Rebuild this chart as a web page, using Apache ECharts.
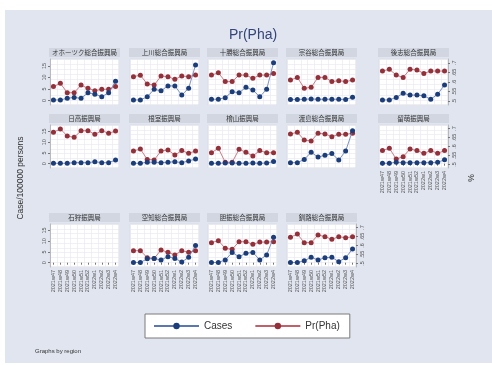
<!DOCTYPE html>
<html>
<head>
<meta charset="utf-8">
<script src="https://cdn.jsdelivr.net/npm/echarts@6/dist/echarts.min.js"></script>
<style>
    body { margin: 0; background: #fff; }
    #chart { width: 492px; height: 365px; }
</style>
</head>
<body>
<div id="chart"></div>
<script>
// regions, in the order Stata draws them
var regions = ['オホーツク総合振興局', '上川総合振興局', '十勝総合振興局', '宗谷総合振興局', '後志総合振興局',
    '日高振興局', '根室振興局', '檜山振興局', '渡島総合振興局', '留萌振興局',
    '石狩振興局', '空知総合振興局', '胆振総合振興局', '釧路総合振興局'];

var weeks = ['2021w47', '2021w48', '2021w49', '2021w50', '2021w51', '2021w52', '2022w1', '2022w2', '2022w3', '2022w4'];

var none = [null, null, null, null, null, null, null, null, null, null];

// Case/100000 persons
var cases = [
    [0.2, 0.2, 0.9, 1.3, 0.9, 3.3, 2.7, 1.6, 3.3, 8.3],
    [0.2, 0.2, 1.6, 4.8, 4.2, 6.3, 6.3, 2.3, 5.3, 15.4],
    [0.5, 0.5, 1.2, 3.8, 3.3, 5.7, 4.5, 1.6, 4.8, 16.4],
    [0.4, 0.4, 0.5, 0.6, 0.5, 0.5, 0.5, 0.5, 0.4, 1.4],
    [0.2, 0.2, 1.3, 3.1, 2.3, 2.3, 2.0, 0.5, 2.7, 6.7],
    [0.2, 0.2, 0.2, 0.5, 0.5, 0.5, 0.9, 0.5, 0.5, 1.7],
    [0.2, 0.2, 0.7, 0.7, 0.5, 0.7, 0.9, 0.5, 1.3, 2.2],
    [0.2, 0.2, 0.3, 0.3, 0.2, 0.2, 0.3, 0.2, 0.3, 1.0],
    [0.5, 0.5, 2.0, 5.3, 3.1, 3.9, 4.7, 1.7, 5.9, 15.3],
    [0.2, 0.2, 0.7, 0.5, 0.5, 0.5, 0.5, 0.5, 0.7, 1.8],
    none,
    [0.1, 0.1, 1.8, 1.9, 1.3, 2.8, 2.0, 0.3, 2.5, 8.0],
    [0.1, 0.1, 1.3, 4.7, 2.8, 4.4, 4.8, 1.3, 3.6, 11.8],
    [0.1, 0.1, 0.9, 2.5, 1.3, 2.3, 2.5, 0.5, 2.3, 6.4]
];

// Pr(Pha)
var prPha = [
    [.576, .593, .544, .544, .584, .567, .555, .562, .562, .576],
    [.628, .635, .590, .584, .631, .628, .614, .631, .628, .636],
    [.636, .648, .602, .602, .636, .636, .619, .636, .636, .645],
    [.610, .624, .567, .572, .624, .624, .602, .607, .602, .610],
    [.657, .666, .636, .624, .666, .663, .645, .657, .657, .657],
    [.679, .698, .659, .651, .688, .688, .668, .688, .674, .686],
    [.575, .586, .528, .525, .575, .581, .552, .577, .562, .575],
    [.565, .590, .512, .512, .584, .568, .547, .577, .565, .565],
    [.670, .679, .636, .631, .674, .670, .655, .668, .668, .674],
    [.577, .590, .530, .543, .586, .577, .562, .577, .562, .577],
    none,
    [.571, .571, .532, .528, .575, .562, .547, .571, .562, .571],
    [.616, .627, .584, .579, .621, .621, .607, .619, .619, .621],
    [.646, .664, .616, .616, .659, .649, .635, .649, .643, .649]
];

var caseTicks = [0, 5, 10, 15];
var prTicks = [.5, .55, .6, .65, .7];

// panel layout
var colX = [50, 130, 208, 287, 379];
var rowY = [59, 125, 224];
var rowH = [46, 43, 43];
var panelW = 69;

var BLUE = '#1b3d7a', RED = '#93303a';
var FONT = 'Liberation Sans';
var JP = 'Noto Sans CJK JP';

var grids = [], xAxes = [], yAxes = [], series = [];
var graphics = [
    {type: 'rect', z: -10, shape: {x: 5, y: 10, width: 487, height: 353}, style: {fill: '#e0e5ef'}}
];

for (var i = 0; i < regions.length; i++) {
    var r = i < 5 ? 0 : (i < 10 ? 1 : 2);
    var c = i - r * 5;
    var leftAxis = c === 0;
    var rightAxis = c === 4 || i === regions.length - 1;
    var bottomAxis = r === 2 || i === 9;

    grids.push({
        left: colX[c], top: rowY[r], width: panelW, height: rowH[r],
        show: true, backgroundColor: '#fff', borderColor: '#d9dde6', borderWidth: 1
    });

    graphics.push({
        type: 'rect', shape: {x: colX[c] - 1, y: rowY[r] - 11, width: panelW + 2, height: 9},
        style: {fill: '#d1d6e1'}
    });
    graphics.push({
        type: 'text', x: colX[c] + panelW / 2, y: rowY[r] - 6.5,
        style: {text: regions[i], fill: '#333', font: '6.5px "' + JP + '"', textAlign: 'center', textVerticalAlign: 'middle'}
    });

    xAxes.push({
        type: 'category', gridIndex: i, data: weeks, boundaryGap: true,
        axisLine: {show: false},
        axisTick: {show: bottomAxis, length: 2, alignWithLabel: true, lineStyle: {color: '#777'}},
        axisLabel: {show: bottomAxis, rotate: 90, fontSize: 5.5, margin: 3, color: '#555', fontFamily: FONT, interval: 0},
        splitLine: {show: true, interval: 0, lineStyle: {color: '#e7e8ef', width: 0.6}}
    });

    yAxes.push({
        type: 'value', gridIndex: i, position: 'left', min: -2, max: 18,
        axisLine: {show: leftAxis, lineStyle: {color: '#999', width: 0.6}},
        axisTick: {show: leftAxis, length: 2, customValues: caseTicks, lineStyle: {color: '#777'}},
        axisLabel: {show: leftAxis, customValues: caseTicks, rotate: 90, fontSize: 5.5, margin: 3, color: '#555', fontFamily: FONT},
        splitLine: {show: false}
    });
    yAxes.push({
        type: 'value', gridIndex: i, position: 'right', min: .48, max: .72,
        axisLine: {show: rightAxis, lineStyle: {color: '#999', width: 0.6}},
        axisTick: {show: rightAxis, length: 2, customValues: prTicks, lineStyle: {color: '#777'}},
        axisLabel: {
            show: rightAxis, customValues: prTicks, rotate: 90, fontSize: 5.5, margin: 3, color: '#555', fontFamily: FONT,
            formatter: function (v) { return String(+v.toFixed(2)).replace(/^0/, ''); }
        },
        splitLine: {show: false}
    });
    // only carries the fine horizontal grid
    yAxes.push({
        type: 'value', gridIndex: i, position: 'left', min: 0, max: 9, interval: 1,
        axisLine: {show: false}, axisTick: {show: false}, axisLabel: {show: false},
        splitLine: {show: true, lineStyle: {color: '#e7e8ef', width: 0.6}}
    });

    series.push({
        name: 'Cases', type: 'line', xAxisIndex: i, yAxisIndex: 3 * i, data: cases[i],
        symbol: 'circle', symbolSize: 5, showAllSymbol: true, z: 3,
        itemStyle: {color: BLUE}, lineStyle: {color: '#5a77b0', width: 0.8}
    });
    series.push({
        name: 'Pr(Pha)', type: 'line', xAxisIndex: i, yAxisIndex: 3 * i + 1, data: prPha[i],
        symbol: 'circle', symbolSize: 5, showAllSymbol: true, z: 2,
        itemStyle: {color: RED}, lineStyle: {color: '#c0606a', width: 0.8}
    });
}

graphics.push({
    type: 'text', x: 21, y: 178, rotation: Math.PI / 2,
    style: {text: 'Case/100000 persons', fill: '#333', font: '8.5px "' + FONT + '"', textAlign: 'center', textVerticalAlign: 'middle'}
});
graphics.push({
    type: 'text', x: 472, y: 178, rotation: Math.PI / 2,
    style: {text: '%', fill: '#333', font: '8.5px "' + FONT + '"', textAlign: 'center', textVerticalAlign: 'middle'}
});
graphics.push({
    type: 'text', x: 35, y: 351,
    style: {text: 'Graphs by region', fill: '#333', font: '6px "' + FONT + '"', textAlign: 'left', textVerticalAlign: 'middle'}
});

var option = {
    animation: false,
    title: {
        text: 'Pr(Pha)', left: 248, top: 23, textAlign: 'center',
        textStyle: {fontSize: 14, fontWeight: 'normal', color: '#34457a', fontFamily: FONT}
    },
    legend: {
        data: ['Cases', 'Pr(Pha)'], left: 145, top: 314,
        padding: [7, 10, 7, 8], itemGap: 22, itemWidth: 45, itemHeight: 8,
        backgroundColor: '#fff', borderColor: '#7a7a7a', borderWidth: 1,
        textStyle: {fontSize: 10, color: '#333', fontFamily: FONT}
    },
    grid: grids,
    xAxis: xAxes,
    yAxis: yAxes,
    series: series,
    graphic: graphics
};

var myChart = echarts.init(document.getElementById('chart'));
myChart.setOption(option);
</script>
</body>
</html>
